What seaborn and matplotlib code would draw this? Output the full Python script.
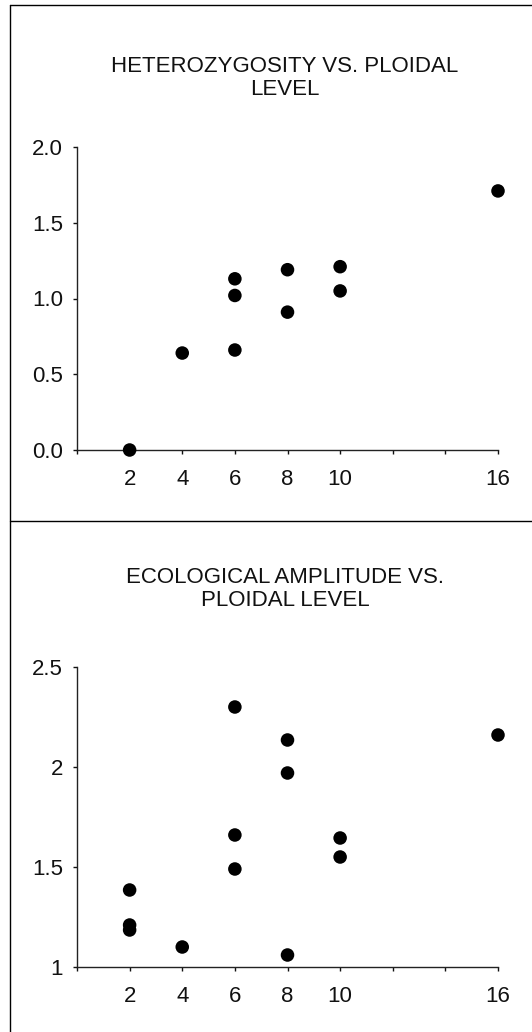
import seaborn as sns
import matplotlib.pyplot as plt
import pandas as pd
from matplotlib.lines import Line2D

# values
ploidy_het = [2, 4, 6, 6, 6, 8, 8, 10, 10, 16]
heterozygosity = [0.0, 0.64, 0.66, 1.02, 1.13, 0.91, 1.19, 1.05, 1.21, 1.71]

ploidy_eco = [2, 2, 2, 4, 6, 6, 6, 8, 8, 8, 10, 10, 16]
eco_amplitude = [1.385, 1.21, 1.185, 1.10, 1.49, 1.66, 2.30, 1.06, 1.97, 2.135, 1.55, 1.645, 2.16]

x_ticks = [0, 2, 4, 6, 8, 10, 12, 14, 16]
x_labels = ['', '2', '4', '6', '8', '10', '', '', '16']

het_ticks = [0.0, 0.5, 1.0, 1.5, 2.0]
het_labels = ['0.0', '0.5', '1.0', '1.5', '2.0']
eco_ticks = [1.0, 1.5, 2.0, 2.5]
eco_labels = ['1', '1.5', '2', '2.5']

titles = ['HETEROZYGOSITY VS. PLOIDAL\nLEVEL', 'ECOLOGICAL AMPLITUDE VS.\nPLOIDAL LEVEL']

sns.set_style('ticks')
plt.rcParams['font.family'] = ['Liberation Sans', 'DejaVu Sans']

W, H = 532, 1032
fig = plt.figure(figsize=(W / 100, H / 100), dpi=100)


def px_axes(left, top, right, bottom):
    return fig.add_axes([left / W, 1 - bottom / H, (right - left) / W, (bottom - top) / H])


def style_axes(ax, yticks, ylabels, ylim):
    ax.set_xlim(0, 16)
    ax.set_ylim(*ylim)
    ax.set_xticks(x_ticks)
    ax.set_xticklabels(x_labels)
    ax.set_yticks(yticks)
    ax.set_yticklabels(ylabels)
    ax.set_xlabel('')
    ax.set_ylabel('')
    for side in ['top', 'right']:
        ax.spines[side].set_visible(False)
    for side in ['left', 'bottom']:
        ax.spines[side].set_linewidth(1.0)
        ax.spines[side].set_color('#222222')
    ax.tick_params(axis='x', direction='out', length=3, width=1, pad=11, labelsize=16, colors='#111111')
    ax.tick_params(axis='y', direction='out', length=3, width=1, pad=7, labelsize=16, colors='#111111')


# top panel
df_het = pd.DataFrame({'ploidy': ploidy_het, 'value': heterozygosity})
ax1 = px_axes(77, 147, 498, 450)
sns.scatterplot(data=df_het, x='ploidy', y='value', ax=ax1, color='black',
                s=95, edgecolor='none', clip_on=False, zorder=5)
style_axes(ax1, het_ticks, het_labels, (0, 2))

# bottom panel
df_eco = pd.DataFrame({'ploidy': ploidy_eco, 'value': eco_amplitude})
ax2 = px_axes(77, 667, 498, 967)
sns.scatterplot(data=df_eco, x='ploidy', y='value', ax=ax2, color='black',
                s=95, edgecolor='none', clip_on=False, zorder=5)
style_axes(ax2, eco_ticks, eco_labels, (1, 2.5))

# titles
fig.text(285 / W, 1 - 78 / H, titles[0], ha='center', va='center', fontsize=16,
         linespacing=1.1, color='#111111')
fig.text(285 / W, 1 - 589 / H, titles[1], ha='center', va='center', fontsize=16,
         linespacing=1.1, color='#111111')

# panel frame lines
fig.add_artist(Line2D([10 / W, 10 / W], [0, 1 - 5 / H], transform=fig.transFigure, color='black', lw=1))
fig.add_artist(Line2D([10 / W, 1], [1 - 5 / H, 1 - 5 / H], transform=fig.transFigure, color='black', lw=1))
fig.add_artist(Line2D([10 / W, 1], [1 - 521 / H, 1 - 521 / H], transform=fig.transFigure, color='black', lw=1))

fig.savefig('out.png', dpi=100, facecolor='white')
